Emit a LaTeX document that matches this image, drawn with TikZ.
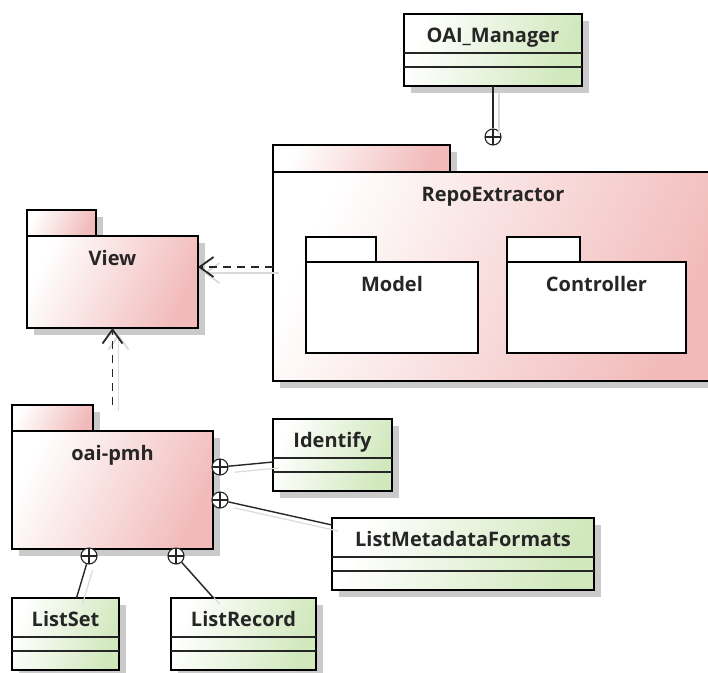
\documentclass[tikz,border=0pt]{standalone}
\usepackage{fontspec}
\setmainfont{Open Sans}
\usetikzlibrary{arrows.meta,calc,backgrounds}

\definecolor{pkgpink}{RGB}{242,186,186}
\definecolor{clsgreen}{RGB}{208,232,188}
\definecolor{ink}{RGB}{38,38,38}
\definecolor{shadowgray}{RGB}{202,202,202}
\definecolor{lineshadow}{RGB}{218,218,218}

\tikzset{
  frame/.style={draw=black, line width=2.8pt, inner sep=0pt, outer sep=0pt},
  pinkfill/.style={top color=white, bottom color=pkgpink, shading angle=65},
  whitefill/.style={fill=white},
  clsbox/.style={frame, anchor=north west, minimum height=72pt,
    top color=white, bottom color=clsgreen, shading angle=70},
  boxshadow/.style={fill=shadowgray},
  sepline/.style={draw=ink, line width=1.2pt},
  lbl/.style={font=\fontsize{20}{24}\selectfont\bfseries, text=ink, inner sep=0pt, anchor=base},
  nest/.style={circle, draw=ink, line width=1.1pt, fill=white, minimum size=16pt, inner sep=0pt,
    path picture={\draw[ink, line width=1.1pt]
      (path picture bounding box.north) -- (path picture bounding box.south)
      (path picture bounding box.west) -- (path picture bounding box.east);}},
  line shadow/.style={preaction={draw=lineshadow, line width=1.2pt, solid,
    transform canvas={xshift=6pt, yshift=-6pt}}},
  nestline/.style={draw=ink, line width=1.4pt, line shadow},
  dep/.style={draw=ink, line width=1.8pt, dash pattern=on 8pt off 6pt, line shadow,
    -{Straight Barb[length=14pt,width=20pt,line width=1.8pt]}},
}

% drop shadow behind a node, on the background layer
\newcommand\castshadow[1]{%
  \begin{pgfonlayer}{background}
    \fill[boxshadow] ($(#1.north west)+(7,7)$) rectangle ($(#1.south east)+(7,7)$);
  \end{pgfonlayer}}

% class box: name, x, y, width, title
\newcommand\umlclass[5]{%
  \node[clsbox, minimum width=#4pt] (#1) at (#2,#3) {};
  \castshadow{#1}
  \node[lbl] at ($(#1.north)+(0,28)$) {#5};
  \draw[sepline] ($(#1.north west)+(0,39)$) -- ($(#1.north east)+(0,39)$);
  \draw[sepline] ($(#1.north west)+(0,53)$) -- ($(#1.north east)+(0,53)$);
}

% package: name, x, y, width, height, tab width, tab height, title, fill style
\newcommand\umlpkg[9]{%
  \node[frame, #9, anchor=south west, minimum width=#6pt, minimum height=#7pt] (#1-tab) at (#2,#3) {};
  \node[frame, #9, anchor=north west, minimum width=#4pt, minimum height=#5pt] (#1) at (#2,#3) {};
  \castshadow{#1-tab}
  \castshadow{#1}
  \node[lbl] at ($(#1.north)+(0,29)$) {#8};
}

\begin{document}
\begin{tikzpicture}[x=1pt, y=-1pt]
  \useasboundingbox (0,0) rectangle (708,672);

  % packages
  \umlpkg{repo}{273}{172}{450}{209}{177}{27}{}{pinkfill}
  \node[lbl] at ($(273,172)+(220,29)$) {RepoExtractor};
  \umlpkg{model}{306}{262}{172}{91}{70}{25}{Model}{whitefill}
  \umlpkg{ctrl}{507}{262}{179}{91}{73}{25}{Controller}{whitefill}
  \umlpkg{view}{27}{236}{171}{92}{69}{26}{View}{pinkfill}
  \umlpkg{oaipmh}{12}{431}{201}{118}{81}{26}{oai-pmh}{pinkfill}

  % classes
  \umlclass{oaimgr}{404}{14}{178}{OAI\_Manager}
  \umlclass{identify}{273}{419}{119}{Identify}
  \umlclass{lmf}{332}{518}{262}{ListMetadataFormats}
  \umlclass{listset}{12}{598}{107}{ListSet}
  \umlclass{listrec}{171}{598}{145}{ListRecord}

  % nesting markers
  \node[nest] (c0) at (493,137) {};
  \node[nest] (c1) at (220,467) {};
  \node[nest] (c2) at (220,500) {};
  \node[nest] (c3) at (89,556) {};
  \node[nest] (c4) at (176,556) {};

  % nesting connectors
  \draw[nestline] (oaimgr.south) -- (c0.north);
  \draw[nestline] (c1) -- ([yshift=-7pt]identify.west);
  \draw[nestline] (c2) -- ([yshift=-7pt]lmf.north west);
  \draw[nestline] (c3) -- ([xshift=11pt]listset.north);
  \draw[nestline] (c4) -- ([xshift=-30pt]listrec.north);

  % dependencies
  \draw[dep] ([yshift=9.5pt]repo.west) -- ([yshift=9.5pt]repo.west -| view.east);
  \draw[dep] ([yshift=26pt]oaipmh.north) -- (view.south);
\end{tikzpicture}
\end{document}
